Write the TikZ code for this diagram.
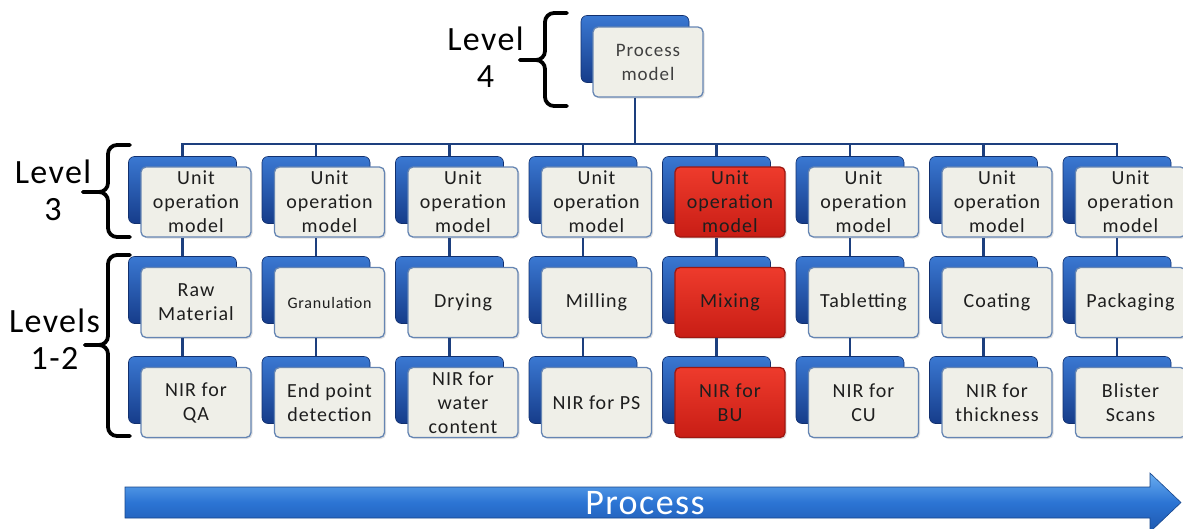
\documentclass[tikz,border=0pt]{standalone}
\usepackage{fontspec}
\setmainfont{Carlito}
\newfontfamily\bx[LetterSpace=5]{Carlito}
\newfontfamily\lv[LetterSpace=4]{Carlito}
\usetikzlibrary{shadows}
\definecolor{bkA}{HTML}{3A78D2}
\definecolor{bkB}{HTML}{163C8A}
\definecolor{frFill}{HTML}{EFEFE8}
\definecolor{frLine}{HTML}{6585B3}
\definecolor{rdA}{HTML}{EE3B2C}
\definecolor{rdB}{HTML}{C81D15}
\definecolor{rdLine}{HTML}{9E1710}
\definecolor{connc}{HTML}{1D3F7E}
\definecolor{txt}{HTML}{1E1E1E}
\definecolor{arA}{HTML}{6AAEF0}
\definecolor{arM}{HTML}{2C74D4}
\definecolor{arB}{HTML}{1E58AE}
\begin{document}
\begin{tikzpicture}[x=1pt,y=-1pt,
 backbox/.style={rectangle, rounded corners=6pt, minimum width=108pt, minimum height=67pt, inner sep=0pt, top color=bkA, bottom color=bkB, draw=bkB!80!black, line width=0.6pt},
 frontbox/.style={rectangle, rounded corners=5pt, minimum width=110pt, minimum height=70pt, inner sep=0pt, fill=frFill, draw=frLine, line width=1.3pt, align=center, text=txt, font=\bx\fontsize{20}{24}\selectfont, drop shadow={opacity=0.25, shadow xshift=1.5pt, shadow yshift=-1.5pt}},
 redbox/.style={frontbox, top color=rdA, bottom color=rdB, draw=rdLine},
 connline/.style={draw=connc, line width=2.6pt},
 bracestyle/.style={line width=3.8pt, rounded corners=9pt, line cap=round, black},
 lvl/.style={align=center, inner sep=0pt, font=\lv\fontsize{34}{37}\selectfont},
]
\useasboundingbox (0,0) rectangle (1183,528);

% level 4
\node[backbox] (pmb) at (635,49) {};
\node[frontbox, text=black!75, font=\bx\fontsize{19}{24}\selectfont] (pm) at (648,62) {Process\\model};
\coordinate (bus) at (635,144);

% columns
\foreach \c/\st/\a/\b in {
 0/frontbox/{Raw\\Material}/{NIR for\\QA},
 1/frontbox/{\fontsize{16}{18}\selectfont Granulation}/{End point\\detection},
 2/frontbox/{Drying}/{NIR for\\water\\content},
 3/frontbox/{Milling}/{NIR for PS},
 4/redbox/{Mixing}/{NIR for\\BU},
 5/frontbox/{Tabletting}/{NIR for\\CU},
 6/frontbox/{Coating}/{NIR for\\thickness},
 7/frontbox/{Packaging}/{Blister\\Scans}}{
  \node[backbox] (b-1-\c) at ({182.5+133.5*\c},190) {};
  \node[\st] (f-1-\c) at ({196+133.5*\c},202) {Unit\\operation\\model};
  \node[backbox] (b-2-\c) at ({182.5+133.5*\c},290) {};
  \node[\st] (f-2-\c) at ({196+133.5*\c},302.5) {\a};
  \node[backbox] (b-3-\c) at ({182.5+133.5*\c},390) {};
  \node[\st] (f-3-\c) at ({196+133.5*\c},402.5) {\b};
  \draw[connline] (b-2-\c.north) -- (b-2-\c.north |- f-1-\c.south);
  \draw[connline] (b-3-\c.north) -- (b-3-\c.north |- f-2-\c.south);
}

% connectors
\draw[connline] (pmb |- pm.south) -- (pmb |- bus);
\draw[connline] (b-1-0.north) |- (bus) -| (b-1-7.north);
\foreach \c in {1,...,6}{
  \draw[connline] (b-1-\c.north) -- (b-1-\c.north |- bus);
}

% braces
\draw[bracestyle] (567,13) -- (545,13) -- (545,60) -- (520,60);
\draw[bracestyle] (567,106) -- (545,106) -- (545,60) -- (520,60);
\draw[bracestyle] (130,145) -- (108,145) -- (108,192) -- (83,192);
\draw[bracestyle] (130,237) -- (108,237) -- (108,192) -- (83,192);
\draw[bracestyle] (130,255) -- (108,255) -- (108,345) -- (85,345);
\draw[bracestyle] (130,436) -- (108,436) -- (108,345) -- (85,345);

% level labels
\node[lvl] (l4) at (485.5,57) {Level\\4};
\node[lvl] (l3) at (53,190.5) {Level\\3};
\node[lvl] (l12) at (54.5,339) {Levels\\1-2};

% process arrow
\path[top color=arA, bottom color=arB, middle color=arM, draw=arB!80!black, line width=0.6pt]
  (125,487) -- (1150,487) -- (1150,473) -- (1181,502.5) -- (1150,532) -- (1150,518) -- (125,518) -- cycle;
\node[text=white, inner sep=0pt, font=\lv\fontsize{36}{40}\selectfont] (proc) at (645,503) {Process};
\end{tikzpicture}
\end{document}
